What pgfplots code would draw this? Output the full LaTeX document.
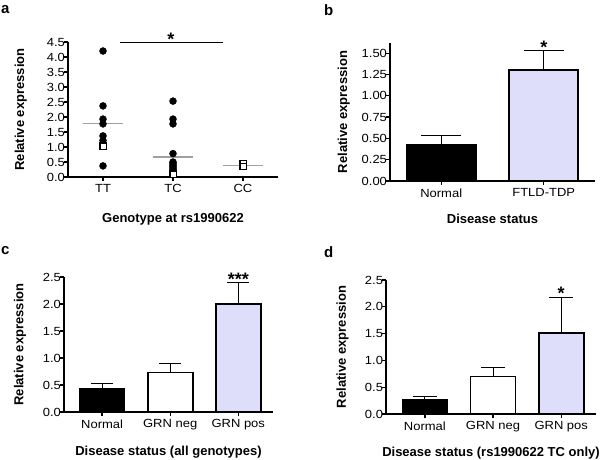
\documentclass[border=0pt]{standalone}
\usepackage{fontspec}
\setmainfont{Liberation Sans}
\newfontfamily\tickfam{Liberation Sans}[FakeStretch=1.1]
\usepackage{pgfplots}
\pgfplotsset{compat=1.18}
\definecolor{lav}{RGB}{222,222,250}
\definecolor{medgray}{RGB}{160,160,160}
\tikzset{sigstar/.style={font=\bfseries\fontsize{18}{18}\selectfont, anchor=south, inner sep=1pt, yshift=-4pt}}
\pgfplotsset{
  gp/.style={
    scale only axis,
    axis x line*=bottom, axis y line*=left,
    axis line style={line width=1.6pt},
    tick align=outside,
    major tick length=4pt,
    tick style={line width=1.3pt, black},
    ymin=0,
    /pgf/number format/assume math mode=true,
    ticklabel style={font=\tickfam\fontsize{11.8}{13}\selectfont},
    label style={font=\bfseries\fontsize{13}{15}\selectfont},
    clip=false,
    yticklabel style={/pgf/number format/fixed, /pgf/number format/zerofill, xshift=4.5pt},
  },
  gpbar/.style={ybar, bar shift=0pt, draw=black, line width=1.6pt,
    error bars/y dir=plus, error bars/y explicit,
    error bars/error bar style={line width=1.1pt, black},
    error bars/error mark options={rotate=90, mark size=#1, line width=1.1pt, black}},
}
\begin{document}
\begin{tikzpicture}
\useasboundingbox (0,0) rectangle (600pt,459pt);
% panel letters
\node[font=\bfseries\fontsize{15}{17}\selectfont, anchor=north west, inner sep=0pt] at (1pt,454pt) {a};
\node[font=\bfseries\fontsize{15}{17}\selectfont, anchor=north west, inner sep=0pt] at (324pt,455pt) {b};
\node[font=\bfseries\fontsize{15}{17}\selectfont, anchor=north west, inner sep=0pt] at (1pt,213pt) {c};
\node[font=\bfseries\fontsize{15}{17}\selectfont, anchor=north west, inner sep=0pt] at (324pt,213pt) {d};

% ---------- panel a ----------
\begin{axis}[gp, at={(68pt,282pt)}, anchor=south west, width=210pt, height=135pt,
  xmin=-0.5, xmax=2.5, ymax=4.5,
  xtick={0,1,2}, xticklabels={TT,TC,CC},
  ytick={0,0.5,...,4.5},
  yticklabel style={/pgf/number format/precision=1},
  ylabel={Relative expression}, xlabel={Genotype at rs1990622},
  ylabel style={at={(axis description cs:-0.225,0.5)}, anchor=center},
  xlabel style={at={(axis description cs:0.5,-0.31)}, anchor=center},
]
\addplot[medgray, line width=1.4pt] coordinates {(-0.29,1.79) (0.29,1.79)};
\addplot[medgray, line width=1.4pt] coordinates {(0.71,0.67) (1.29,0.67)};
\addplot[medgray, line width=1.4pt] coordinates {(1.71,0.38) (2.29,0.38)};
\addplot[only marks, mark=*, mark size=3.5pt, black] coordinates {
  (0,4.2) (0,2.37) (0,1.93) (0,1.77) (0,1.37) (0,1.22) (0,0.37)
  (1,2.53) (1,1.93) (1,1.77) (1,0.78) (1,0.5) (1,0.45) (1,0.4) (1,0.35) (1,0.3) (1,0.25) (1,0.2) (1,0.15)};
\addplot[only marks, mark=square*, mark size=3.1pt, mark options={fill=white, draw=black, line width=1.2pt}] coordinates {
  (0,1.03) (1,0.1) (2,0.45) (2,0.35)};
\addplot[black, line width=1.3pt] coordinates {(0.24,4.48) (1.71,4.48)};
\node[sigstar] at (axis cs:0.97,4.48) {*};
\end{axis}

% ---------- panel b ----------
\begin{axis}[gp, at={(390pt,278pt)}, anchor=south west, width=205pt, height=138pt,
  xmin=-0.5, xmax=1.5, ymax=1.62,
  xtick={0,1}, xticklabels={Normal,FTLD-TDP},
  ytick={0,0.25,...,1.5},
  yticklabel style={/pgf/number format/precision=2},
  ylabel={Relative expression}, xlabel={Disease status},
  ylabel style={at={(axis description cs:-0.225,0.5)}, anchor=center},
  xlabel style={at={(axis description cs:0.5,-0.275)}, anchor=center},
]
\addplot[gpbar=20pt, bar width=69pt, fill=black] coordinates {(0,0.43) +- (0,0.10)};
\addplot[gpbar=20pt, bar width=69pt, fill=lav] coordinates {(1,1.30) +- (0,0.23)};
\node[sigstar] at (axis cs:1,1.53) {*};
\end{axis}

% ---------- panel c ----------
\begin{axis}[gp, at={(64pt,47pt)}, anchor=south west, width=209pt, height=135pt,
  xmin=-0.56, xmax=2.51, ymax=2.5,
  xtick={0,1,2}, xticklabels={Normal,GRN neg,GRN pos},
  ytick={0,0.5,...,2.5},
  yticklabel style={/pgf/number format/precision=1},
  ylabel={Relative expression}, xlabel={Disease status (all genotypes)},
  ylabel style={at={(axis description cs:-0.21,0.5)}, anchor=center},
  xlabel style={at={(axis description cs:0.5,-0.30)}, anchor=center},
]
\addplot[gpbar=11pt, bar width=45pt, fill=black] coordinates {(0,0.43) +- (0,0.10)};
\addplot[gpbar=11pt, bar width=45pt, fill=white] coordinates {(1,0.73) +- (0,0.16)};
\addplot[gpbar=11pt, bar width=45pt, fill=lav] coordinates {(2,2.00) +- (0,0.39)};
\node[sigstar] at (axis cs:2,2.39) {***};
\end{axis}

% ---------- panel d ----------
\begin{axis}[gp, at={(386pt,45pt)}, anchor=south west, width=210pt, height=134pt,
  xmin=-0.57, xmax=2.51, ymax=2.5,
  xtick={0,1,2}, xticklabels={Normal,GRN neg,GRN pos},
  ytick={0,0.5,...,2.5},
  yticklabel style={/pgf/number format/precision=1},
  ylabel={Relative expression}, xlabel={Disease status (rs1990622 TC only)},
  ylabel style={at={(axis description cs:-0.207,0.5)}, anchor=center},
  xlabel style={at={(axis description cs:0.5,-0.29)}, anchor=center},
]
\addplot[gpbar=12pt, bar width=45pt, fill=black] coordinates {(0,0.26) +- (0,0.07)};
\addplot[gpbar=12pt, bar width=45pt, fill=white] coordinates {(1,0.70) +- (0,0.17)};
\addplot[gpbar=12pt, bar width=45pt, fill=lav] coordinates {(2,1.51) +- (0,0.67)};
\node[sigstar] at (axis cs:2,2.18) {*};
\end{axis}
\end{tikzpicture}
\end{document}
